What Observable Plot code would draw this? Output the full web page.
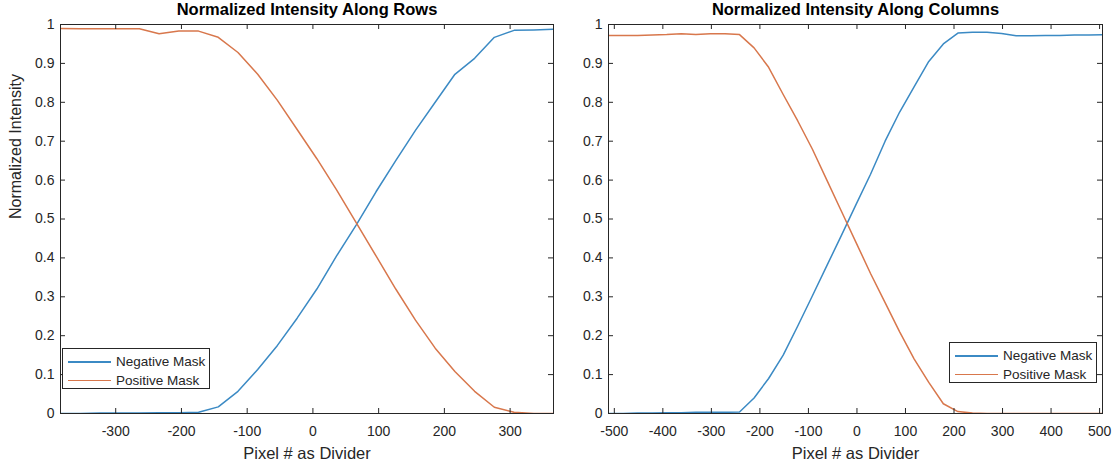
<!DOCTYPE html>
<html><head><meta charset="utf-8">
<script src="https://cdn.jsdelivr.net/npm/d3@7"></script>
<script src="https://cdn.jsdelivr.net/npm/@observablehq/plot@0.6"></script>
<style>
body{margin:0;background:#fff;font-family:"Liberation Sans",Arial,Helvetica,sans-serif;}
#wrap{position:relative;width:1116px;height:467px;display:flex;overflow:hidden;}
.legend{position:absolute;box-sizing:border-box;background:#fff;border:1px solid #262626;width:148px;height:41px;font-size:13.5px;color:#262626;}
.row{position:absolute;left:0;height:18px;width:100%;}
.sw{position:absolute;left:5px;width:43px;top:8px;height:1.5px;}
.lb{position:absolute;left:53px;top:0px;line-height:17px;white-space:nowrap;}
</style></head><body><div id="wrap"></div>
<script>
// ---------- data ----------
const rowsX = [-384,-354,-324,-294,-264,-234,-204,-174,-144,-114,-84,-54,-24,6,36,66,96,126,156,186,216,246,276,306,336,366];
const rowsNeg = [0.0,0.0,0.001,0.001,0.001,0.002,0.002,0.003,0.017,0.057,0.113,0.175,0.245,0.32,0.405,0.485,0.57,0.65,0.728,0.80,0.872,0.913,0.967,0.985,0.986,0.988];
const rowsPos = [0.99,0.989,0.989,0.989,0.989,0.976,0.983,0.983,0.967,0.928,0.872,0.805,0.73,0.655,0.575,0.49,0.405,0.32,0.24,0.168,0.108,0.057,0.016,0.003,0.0,0.0];

const colsX = [-512,-482,-452,-422,-392,-362,-332,-302,-272,-242,-212,-182,-152,-122,-92,-62,-32,-2,28,58,88,118,148,178,208,238,268,298,328,358,388,418,448,478,508];
const colsNeg = [0.0,0.0,0.001,0.001,0.002,0.002,0.003,0.003,0.003,0.004,0.04,0.09,0.15,0.225,0.302,0.38,0.458,0.537,0.615,0.70,0.775,0.84,0.905,0.95,0.978,0.98,0.98,0.977,0.971,0.971,0.972,0.972,0.973,0.973,0.974];
const colsPos = [0.972,0.972,0.972,0.973,0.974,0.976,0.974,0.976,0.976,0.974,0.94,0.89,0.82,0.752,0.68,0.60,0.52,0.44,0.36,0.285,0.21,0.14,0.08,0.025,0.005,0.001,0.0,0.0,0.0,0.0,0.0,0.0,0.0,0.0,0.0];

const rowsTicks = [-300,-200,-100,0,100,200,300];
const colsTicks = [-500,-400,-300,-200,-100,0,100,200,300,400,500];
const yTicks = [0,0.1,0.2,0.3,0.4,0.5,0.6,0.7,0.8,0.9,1];
const seriesNames = ["Negative Mask","Positive Mask"];
const seriesColors = ["#3b8ac4","#d8774c"];
const titles = ["Normalized Intensity Along Rows","Normalized Intensity Along Columns"];
const xLabel = "Pixel # as Divider";
const yLabel = "Normalized Intensity";

// ---------- drawing ----------
const AX = "#262626";
const W = 558, H = 467, MT = 24, MB = 54;
function panel({title, xs, neg, pos, xDomain, xTicks, ml, mr, ylab}) {
  const innerH = H - MT - MB, innerW = W - ml - mr;
  const tick = 5;
  const marks = [
    Plot.line(xs.map((x,i)=>({x, y: neg[i]})), {x:"x", y:"y", stroke: seriesColors[0], strokeWidth: 1.5, clip: true}),
    Plot.line(xs.map((x,i)=>({x, y: pos[i]})), {x:"x", y:"y", stroke: seriesColors[1], strokeWidth: 1.5, clip: true}),
    Plot.frame({stroke: AX, strokeWidth: 1}),
    Plot.tickX(xTicks, {x: d=>d, insetTop: innerH - tick, stroke: AX}),
    Plot.tickX(xTicks, {x: d=>d, insetBottom: innerH - tick, stroke: AX}),
    Plot.tickY(yTicks, {y: d=>d, insetRight: innerW - tick, stroke: AX}),
    Plot.tickY(yTicks, {y: d=>d, insetLeft: innerW - tick, stroke: AX}),
    Plot.axisX({ticks: xTicks, tickSize: 0, tickPadding: 13, tickFormat: d=>String(d), label: null, fill: AX}),
    Plot.axisY({ticks: yTicks, tickSize: 0, tickPadding: 6, tickFormat: d=>String(d), label: null, fill: AX}),
    Plot.text([title], {text: d=>d, frameAnchor: "top", dy: -15, fontSize: 16.5, fontWeight: "bold", lineAnchor: "middle", fill: "#000"}),
    Plot.text([xLabel], {text: d=>d, frameAnchor: "bottom", dy: 40, fontSize: 16.5, lineAnchor: "middle", fill: AX})
  ];
  if (ylab) marks.push(Plot.text([ylab], {text: d=>d, frameAnchor: "left", dx: -45, rotate: -90, fontSize: 16, lineAnchor: "middle", fill: AX}));
  return Plot.plot({
    width: W, height: H, marginTop: MT, marginBottom: MB, marginLeft: ml, marginRight: mr,
    style: {fontFamily: '"Liberation Sans", Arial, Helvetica, sans-serif', fontSize: "14px", background: "white", color: AX},
    x: {domain: xDomain},
    y: {domain: [0, 1]},
    marks
  });
}

const wrap = document.getElementById("wrap");
wrap.appendChild(panel({title: titles[0], xs: rowsX, neg: rowsNeg, pos: rowsPos, xDomain: [-384, 366], xTicks: rowsTicks, ml: 60, mr: 5, ylab: yLabel}));
wrap.appendChild(panel({title: titles[1], xs: colsX, neg: colsNeg, pos: colsPos, xDomain: [-512, 506], xTicks: colsTicks, ml: 50, mr: 14, ylab: null}));

function legend(left, top) {
  const d = document.createElement("div");
  d.className = "legend";
  d.style.left = left + "px";
  d.style.top = top + "px";
  seriesNames.forEach((n, i) => {
    const r = document.createElement("div");
    r.className = "row";
    r.style.top = (4 + i * 18.5) + "px";
    const s = document.createElement("div");
    s.className = "sw"; s.style.background = seriesColors[i];
    const t = document.createElement("div");
    t.className = "lb"; t.textContent = n;
    r.appendChild(s); r.appendChild(t); d.appendChild(r);
  });
  wrap.appendChild(d);
}
legend(62, 348);
legend(949, 342);
</script></body></html>
